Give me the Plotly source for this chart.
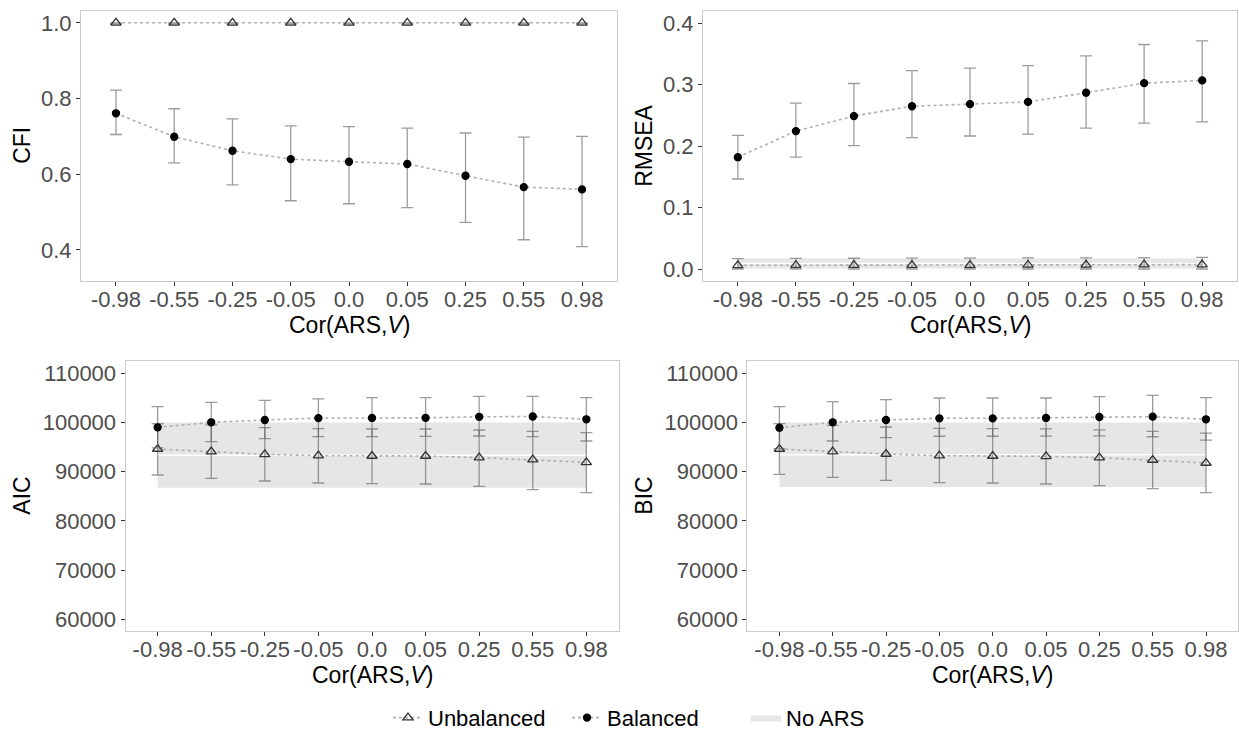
import plotly.graph_objects as go

# Correlation conditions on the x axis
categories = ["-0.98", "-0.55", "-0.25", "-0.05", "0.0", "0.05", "0.25", "0.55", "0.98"]

# CFI
cfi_bal_mean = [0.761, 0.699, 0.662, 0.640, 0.633, 0.627, 0.596, 0.566, 0.560]
cfi_bal_lo = [0.705, 0.630, 0.572, 0.530, 0.522, 0.512, 0.473, 0.427, 0.409]
cfi_bal_hi = [0.822, 0.773, 0.746, 0.728, 0.726, 0.722, 0.709, 0.698, 0.700]
cfi_unb_mean = [1.000, 1.000, 1.000, 1.000, 1.000, 1.000, 1.000, 1.000, 1.000]
cfi_unb_lo = [0.997, 0.997, 0.997, 0.997, 0.997, 0.997, 0.997, 0.997, 0.997]
cfi_unb_hi = [1.000, 1.000, 1.000, 1.000, 1.000, 1.000, 1.000, 1.000, 1.000]
cfi_noars = [0.998, 0.999, 1.000]  # lower, mean, upper

# RMSEA
rmsea_bal_mean = [0.182, 0.2245, 0.249, 0.265, 0.2685, 0.272, 0.287, 0.3025, 0.307]
rmsea_bal_lo = [0.1465, 0.182, 0.201, 0.214, 0.2165, 0.2195, 0.2295, 0.2375, 0.2395]
rmsea_bal_hi = [0.2175, 0.270, 0.302, 0.323, 0.327, 0.331, 0.347, 0.3655, 0.3715]
rmsea_unb_mean = [0.0060, 0.0062, 0.0064, 0.0065, 0.0065, 0.0066, 0.0068, 0.0070, 0.0072]
rmsea_unb_lo = [0.0000, 0.0000, 0.0000, 0.0000, 0.0000, 0.0000, 0.0000, 0.0000, 0.0000]
rmsea_unb_hi = [0.0170, 0.0172, 0.0175, 0.0178, 0.0178, 0.0180, 0.0182, 0.0184, 0.0188]
rmsea_noars = [0.001, 0.009, 0.0172]

# AIC
aic_bal_mean = [99020, 100040, 100510, 100900, 100920, 100950, 101160, 101220, 100650]
aic_bal_lo = [94830, 96100, 96715, 97110, 97110, 97190, 97250, 97110, 96240]
aic_bal_hi = [103210, 104100, 104515, 104815, 105040, 105040, 105320, 105320, 105040]
aic_unb_mean = [94615, 94070, 93530, 93260, 93190, 93190, 92850, 92440, 91900]
aic_unb_lo = [89330, 88650, 88110, 87700, 87560, 87500, 87030, 86340, 85730]
aic_unb_hi = [99740, 99500, 98950, 98740, 98680, 98680, 98475, 98210, 97930]
aic_noars = [86750, 93330, 99980]

# BIC
bic_bal_mean = [98940, 100040, 100510, 100850, 100850, 100920, 101120, 101180, 100650]
bic_bal_lo = [94680, 96240, 96910, 97200, 97200, 97240, 97260, 97100, 96400]
bic_bal_hi = [103210, 104230, 104640, 104980, 104980, 104980, 105240, 105520, 105040]
bic_unb_mean = [94615, 94070, 93600, 93260, 93190, 93120, 92850, 92380, 91770]
bic_unb_lo = [89460, 88850, 88250, 87770, 87700, 87500, 87160, 86550, 85730]
bic_unb_hi = [99770, 99400, 99080, 98800, 98760, 98700, 98500, 98200, 97850]
bic_noars = [86890, 93450, 100000]

FONT = "Liberation Sans, Arial, Helvetica, sans-serif"
W, H = 1239, 740
TICK_COLOR = "#4d4d4d"
ERR_COLOR = "rgba(90,90,90,0.6)"
LINE_COLOR = "#b0b0b0"
RIBBON = "#e6e6e6"
TICK_SIZE = 22
TITLE_SIZE = 23

panels = [
    dict(title="CFI", bal=(cfi_bal_mean, cfi_bal_lo, cfi_bal_hi),
         unb=(cfi_unb_mean, cfi_unb_lo, cfi_unb_hi), noars=cfi_noars,
         yrange=[0.318, 1.032], ytick=[0.4, 0.6, 0.8, 1.0], yfmt=".1f",
         px=(81, 617), py=(10.7, 281)),
    dict(title="RMSEA", bal=(rmsea_bal_mean, rmsea_bal_lo, rmsea_bal_hi),
         unb=(rmsea_unb_mean, rmsea_unb_lo, rmsea_unb_hi), noars=rmsea_noars,
         yrange=[-0.0195, 0.4205], ytick=[0.0, 0.1, 0.2, 0.3, 0.4], yfmt=".1f",
         px=(703, 1237), py=(10.7, 281)),
    dict(title="AIC", bal=(aic_bal_mean, aic_bal_lo, aic_bal_hi),
         unb=(aic_unb_mean, aic_unb_lo, aic_unb_hi), noars=aic_noars,
         yrange=[57680, 112560], ytick=[60000, 70000, 80000, 90000, 100000, 110000], yfmt="d",
         px=(125.5, 618.5), py=(360.7, 630.7)),
    dict(title="BIC", bal=(bic_bal_mean, bic_bal_lo, bic_bal_hi),
         unb=(bic_unb_mean, bic_unb_lo, bic_unb_hi), noars=bic_noars,
         yrange=[57680, 112560], ytick=[60000, 70000, 80000, 90000, 100000, 110000], yfmt="d",
         px=(747.4, 1238), py=(360.7, 630.7)),
]

fig = go.Figure()
layout = dict(
    width=W, height=H, margin=dict(l=0, r=0, t=0, b=0),
    paper_bgcolor="white", plot_bgcolor="white",
    font=dict(family=FONT, size=TICK_SIZE, color="black"),
    showlegend=True,
    legend=dict(orientation="h", x=388 / W, xanchor="left", y=0.030, yanchor="middle",
                font=dict(family=FONT, size=22, color="black"),
                itemwidth=30, entrywidth=134, entrywidthmode="pixels", tracegroupgap=0),
    annotations=[],
)

for i, p in enumerate(panels):
    k = "" if i == 0 else str(i + 1)
    xa, ya = "x" + k, "y" + k
    first = i == 0

    lo, mid, hi = p["noars"]
    # No-ARS band across the full condition range, with its mean as a white line
    fig.add_trace(go.Scatter(
        x=[categories[0], categories[-1], categories[-1], categories[0], categories[0]],
        y=[lo, lo, hi, hi, lo], fill="toself", fillcolor=RIBBON, mode="lines",
        line=dict(width=0, color=RIBBON), name="No ARS", legendgroup="noars",
        showlegend=first, legendrank=3, xaxis=xa, yaxis=ya, hoverinfo="skip"))
    fig.add_trace(go.Scatter(
        x=[categories[0], categories[-1]], y=[mid, mid], mode="lines",
        line=dict(color="white", width=1.6), showlegend=False,
        xaxis=xa, yaxis=ya, hoverinfo="skip"))

    for key, name, sym, msize, mcolor, rank in [
        ("unb", "Unbalanced", "triangle-up-open", 9, "#333333", 1),
        ("bal", "Balanced", "circle", 7, "black", 2),
    ]:
        m, l, h = p[key]
        fig.add_trace(go.Scatter(
            x=categories, y=m, mode="lines+markers", name=name, legendgroup=key,
            showlegend=first, legendrank=rank,
            line=dict(color=LINE_COLOR, width=1.6, dash="dot"),
            marker=dict(symbol=sym, size=msize, color=mcolor,
                        line=dict(color=mcolor, width=1.3)),
            error_y=dict(type="data", symmetric=False,
                         array=[hv - mv for hv, mv in zip(h, m)],
                         arrayminus=[mv - lv for mv, lv in zip(m, l)],
                         color=ERR_COLOR, thickness=1.3, width=6),
            xaxis=xa, yaxis=ya))

    x0, x1 = p["px"]
    y0, y1 = p["py"]
    layout["xaxis" + k] = dict(
        domain=[x0 / W, x1 / W], anchor=ya, type="category",
        categoryorder="array", categoryarray=categories,
        range=[-0.6, len(categories) - 0.4],
        showline=True, mirror=True, linecolor="#cccccc", linewidth=1,
        ticks="outside", ticklen=4, tickcolor="#333333", tickwidth=1,
        ticklabelstandoff=-5,
        tickfont=dict(family=FONT, size=TICK_SIZE, color=TICK_COLOR),
        showgrid=False, zeroline=False, fixedrange=True)
    layout["yaxis" + k] = dict(
        domain=[1 - y1 / H, 1 - y0 / H], anchor=xa,
        range=p["yrange"], tickvals=p["ytick"], tickformat=p["yfmt"],
        showline=True, mirror=True, linecolor="#cccccc", linewidth=1,
        ticks="outside", ticklen=4, tickcolor="#333333", tickwidth=1,
        tickfont=dict(family=FONT, size=TICK_SIZE, color=TICK_COLOR),
        showgrid=False, zeroline=False, fixedrange=True)

    # axis titles
    ytitle_x = 22 if x0 < 300 else 644
    layout["annotations"].append(dict(
        text=p["title"], xref="paper", yref="paper",
        x=ytitle_x / W, y=1 - (y0 + y1) / 2 / H, textangle=-90, showarrow=False,
        xanchor="center", yanchor="middle", font=dict(family=FONT, size=TITLE_SIZE, color="black")))
    layout["annotations"].append(dict(
        text="Cor(ARS,<i>V</i>)", xref="paper", yref="paper",
        x=(x0 + x1) / 2 / W, y=1 - (y1 + 44) / H, showarrow=False,
        xanchor="center", yanchor="middle", font=dict(family=FONT, size=TITLE_SIZE, color="black")))

fig.update_layout(**layout)
fig.write_html("out.html")
